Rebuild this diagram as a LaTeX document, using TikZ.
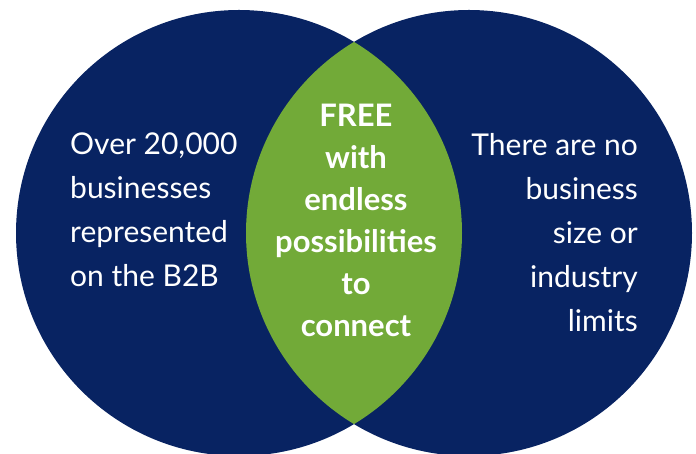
\documentclass[tikz,border=0pt]{standalone}
\usepackage{fontspec}
\setmainfont{Lato}
\usepackage{tikz}
\definecolor{navy}{RGB}{8,35,98}
\definecolor{leaf}{RGB}{114,170,56}

\tikzset{
    side text/.style={text=white, inner sep=0pt, font=\fontsize{30}{44}\selectfont},
    mid text/.style={text=white, inner sep=0pt, align=center, font=\bfseries\fontsize{31}{42}\selectfont}
}

\begin{document}
\begin{tikzpicture}[x=1pt, y=1pt]
    \useasboundingbox (0,0) rectangle (696,454);

    % Circle centres
    \coordinate (left) at (239,221);
    \coordinate (right) at (469,221);

    % Circles
    \fill[navy] (left) circle (223pt);
    \fill[navy] (right) circle (223pt);

    % Overlap
    \begin{scope}
        \clip (left) circle (223pt);
        \fill[leaf] (right) circle (223pt);
    \end{scope}

    % Texts
    \node[side text, align=left, anchor=base west] (reach) at (70,167)
        {Over 20,000\\businesses\\represented\\on the B2B};
    \node[side text, align=right, anchor=base east] (limits) at (638,122)
        {There are no\\business\\size or\\industry\\limits};
    \node[mid text, anchor=base] (free) at (356,117)
        {FREE\\with\\endless\\possibilities\\to\\connect};
\end{tikzpicture}
\end{document}
